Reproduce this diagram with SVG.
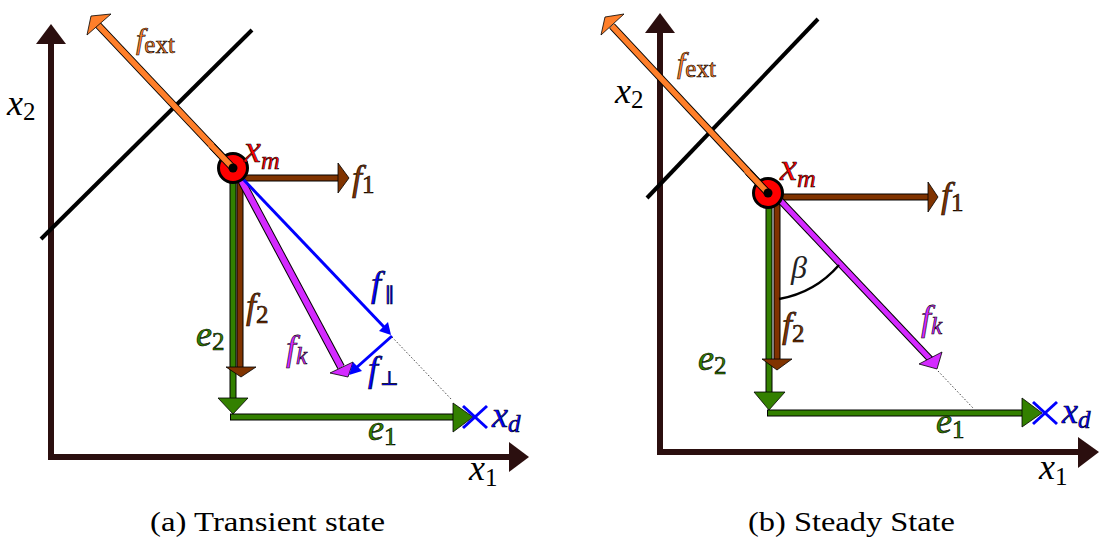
<svg xmlns="http://www.w3.org/2000/svg" width="1102" height="541" viewBox="0 0 1102 541">
<defs>
  <polygon id="hd-r" points="0,-15 0,15 11,0"/>
</defs>
<rect width="1102" height="541" fill="#fff"/>

<!-- Panel (a) -->
<g id="panel-a">
  <g id="a-axes" fill="#2b0f0f" stroke="#2b0f0f">
    <line stroke-width="6" x1="51" y1="460" x2="51" y2="42"/>
    <polygon stroke="none" points="51,24 36,44 66,44"/>
    <line stroke-width="6" x1="48" y1="457" x2="510" y2="457"/>
    <polygon stroke="none" points="529,457 509,442 509,472"/>
  </g>
  <g id="a-constraint">
    <line stroke="#000" stroke-width="4" x1="41" y1="239" x2="252" y2="30"/>
  </g>
  <g id="a-connectors" fill="none">
    <g id="a-e2">
      <line stroke="#000" stroke-width="7" x1="233" y1="172" x2="233" y2="399"/>
      <line stroke="#338000" stroke-width="5" x1="233" y1="172" x2="233" y2="399"/>
      <polygon fill="#338000" stroke="#000" stroke-width="0.8" points="218,398 248,398 233,414"/>
    </g>
    <g id="a-e1">
      <line stroke="#000" stroke-width="7" x1="230" y1="417" x2="454" y2="417"/>
      <line stroke="#338000" stroke-width="5" x1="231" y1="417" x2="454" y2="417"/>
      <polygon fill="#338000" stroke="#000" stroke-width="0.8" points="453,403 453,432 473,417"/>
    </g>
    <g id="a-f2">
      <line stroke="#000" stroke-width="7" x1="240" y1="175" x2="240" y2="368"/>
      <line stroke="#803300" stroke-width="5" x1="240" y1="175" x2="240" y2="368"/>
      <polygon fill="#803300" stroke="#000" stroke-width="0.8" points="226,367 256,367 241,377"/>
    </g>
    <g id="a-f1">
      <line stroke="#000" stroke-width="7" x1="237" y1="178" x2="339" y2="178"/>
      <line stroke="#803300" stroke-width="5" x1="238" y1="178" x2="339" y2="178"/>
      <polygon fill="#803300" stroke="#000" stroke-width="0.8" points="338,163 338,193 349,178"/>
    </g>
    <g id="a-fk">
      <line stroke="#000" stroke-width="8" x1="240" y1="178" x2="341" y2="367"/>
      <line stroke="#d42aff" stroke-width="6" x1="240" y1="178" x2="341" y2="367"/>
      <polygon fill="#d42aff" stroke="#000" stroke-width="0.8" points="330,373 353,362 348,377"/>
    </g>
    <g id="a-fpar">
      <line stroke="#0000ff" stroke-width="3" x1="242" y1="178" x2="385" y2="328"/>
      <polygon fill="#0000ff" points="391,335 388,322 379,331"/>
    </g>
    <g id="a-fperp">
      <line stroke="#0000ff" stroke-width="3" x1="392" y1="336" x2="356" y2="368"/>
      <polygon fill="#0000ff" points="349,375 353,362 362,371"/>
    </g>
    <line stroke="#444" stroke-width="1" stroke-dasharray="1.5 2" x1="392" y1="337" x2="452" y2="400"/>
    <g id="a-fext">
      <line stroke="#000" stroke-width="7.5" x1="232" y1="167" x2="98" y2="25"/>
      <line stroke="#ff7f2a" stroke-width="5.5" x1="232" y1="167" x2="98" y2="25"/>
      <polygon fill="#ff7f2a" stroke="#000" stroke-width="0.8" points="87,35 91,16 111,14"/>
    </g>
  </g>
  <g id="a-xm">
    <circle fill="#ff0000" stroke="#000" stroke-width="3" cx="233" cy="168" r="14.5"/>
    <line stroke="#000" stroke-width="7.5" x1="233" y1="168" x2="212" y2="146"/>
    <line stroke="#ff7f2a" stroke-width="5.5" x1="233" y1="168" x2="210" y2="144"/>
    <circle cx="233" cy="168" r="4.5" fill="#000"/>
  </g>
  <g id="a-xd" stroke="#0000ff" stroke-width="3">
    <line x1="463" y1="406" x2="487" y2="428"/>
    <line x1="463" y1="428" x2="487" y2="406"/>
  </g>
  <g id="a-labels">
    <text font-family="Liberation Serif" font-style="italic" font-size="36" x="7" y="115" fill="#000">x<tspan font-style="normal" font-size="25" dy="5">2</tspan></text>
    <text font-family="Liberation Serif" font-style="italic" font-size="36" x="469" y="480" fill="#000">x<tspan font-style="normal" font-size="25" dy="6">1</tspan></text>
    <text stroke="#000" stroke-width="0.6" font-family="Liberation Serif" font-style="italic" font-size="30" x="136" y="49" fill="#ff7f2a">f<tspan font-style="normal" font-size="25" dy="4">ext</tspan></text>
    <text stroke="#000" stroke-width="0.6" font-family="Liberation Serif" font-style="italic" font-size="38" x="244" y="162" fill="#ff0000">x<tspan font-size="26" dy="7">m</tspan></text>
    <text stroke="#000" stroke-width="0.6" font-family="Liberation Serif" font-style="italic" font-size="36" x="352" y="190" fill="#803300">f<tspan font-style="normal" font-size="25" dy="3">1</tspan></text>
    <text stroke="#000" stroke-width="0.6" font-family="Liberation Serif" font-style="italic" font-size="36" x="246" y="318" fill="#803300">f<tspan font-style="normal" font-size="25" dy="5">2</tspan></text>
    <text stroke="#000" stroke-width="0.6" font-family="Liberation Serif" font-style="italic" font-size="36" x="196" y="346" fill="#338000">e<tspan font-style="normal" font-size="25" dy="4">2</tspan></text>
    <text stroke="#000" stroke-width="0.6" font-family="Liberation Serif" font-style="italic" font-size="36" x="368" y="440" fill="#338000">e<tspan font-style="normal" font-size="25" dy="5">1</tspan></text>
    <text stroke="#000" stroke-width="0.6" font-family="Liberation Serif" font-style="italic" font-size="36" x="492" y="427" fill="#0000ff">x<tspan font-size="25" dy="5">d</tspan></text>
    <text stroke="#000" stroke-width="0.6" font-family="Liberation Serif" font-style="italic" font-size="36" x="286" y="360" fill="#d42aff">f<tspan font-size="25" dy="4">k</tspan></text>
    <text stroke="#000" stroke-width="0.6" font-family="Liberation Serif" font-style="italic" font-size="36" x="371" y="296" fill="#0000ff">f</text>
    <text stroke="#000" stroke-width="0.6" font-family="DejaVu Serif" font-size="20" x="385" y="302" fill="#0000ff">∥</text>
    <text stroke="#000" stroke-width="0.6" font-family="Liberation Serif" font-style="italic" font-size="36" x="368" y="381" fill="#0000ff">f</text>
    <text stroke="#000" stroke-width="0.6" font-family="DejaVu Serif" font-size="20" x="380" y="385" fill="#0000ff">⊥</text>
    <text font-family="Liberation Serif" font-size="28" fill="#000" x="150" y="531" textLength="235" lengthAdjust="spacingAndGlyphs">(a) Transient state</text>
  </g>
</g>

<!-- Panel (b) -->
<g id="panel-b">
  <g id="b-axes" fill="#2b0f0f" stroke="#2b0f0f">
    <line stroke-width="6" x1="660" y1="455" x2="660" y2="31"/>
    <polygon stroke="none" points="660,13 645,33 675,33"/>
    <line stroke-width="6" x1="657" y1="452" x2="1080" y2="452"/>
    <polygon stroke="none" points="1099,452 1078,437 1078,468"/>
  </g>
  <g id="b-constraint">
    <line stroke="#000" stroke-width="4" x1="647" y1="198" x2="818" y2="19"/>
  </g>
  <g id="b-connectors" fill="none">
    <g id="b-e2">
      <line stroke="#000" stroke-width="7" x1="769" y1="196" x2="769" y2="393"/>
      <line stroke="#338000" stroke-width="5" x1="769" y1="196" x2="769" y2="393"/>
      <polygon fill="#338000" stroke="#000" stroke-width="0.8" points="754,392 785,392 769,410"/>
    </g>
    <g id="b-e1">
      <line stroke="#000" stroke-width="7" x1="767" y1="413" x2="1023" y2="413"/>
      <line stroke="#338000" stroke-width="5" x1="768" y1="413" x2="1023" y2="413"/>
      <polygon fill="#338000" stroke="#000" stroke-width="0.8" points="1022,398 1022,427 1042,413"/>
    </g>
    <g id="b-f2">
      <line stroke="#000" stroke-width="7" x1="777" y1="194" x2="777" y2="360"/>
      <line stroke="#803300" stroke-width="5" x1="777" y1="194" x2="777" y2="360"/>
      <polygon fill="#803300" stroke="#000" stroke-width="0.8" points="762,359 792,359 777,370"/>
    </g>
    <g id="b-f1">
      <line stroke="#000" stroke-width="7" x1="774" y1="197" x2="929" y2="197"/>
      <line stroke="#803300" stroke-width="5" x1="775" y1="197" x2="929" y2="197"/>
      <polygon fill="#803300" stroke="#000" stroke-width="0.8" points="928,182 928,212 938,197"/>
    </g>
    <g id="b-fk">
      <line stroke="#000" stroke-width="7" x1="777" y1="197" x2="931" y2="360"/>
      <line stroke="#d42aff" stroke-width="5" x1="777" y1="197" x2="931" y2="360"/>
      <polygon fill="#d42aff" stroke="#000" stroke-width="0.8" points="919,364 942,352 937,369"/>
    </g>
    <line stroke="#444" stroke-width="1" stroke-dasharray="1.5 2" x1="938" y1="371" x2="973" y2="408"/>
    <path d="M779,299 A103,103 0 0 0 839,265" stroke="#000" stroke-width="2.5"/>
    <g id="b-fext">
      <line stroke="#000" stroke-width="7.5" x1="768" y1="193" x2="612" y2="26"/>
      <line stroke="#ff7f2a" stroke-width="5.5" x1="768" y1="193" x2="612" y2="26"/>
      <polygon fill="#ff7f2a" stroke="#000" stroke-width="0.8" points="601,35 605,17 624,14"/>
    </g>
  </g>
  <g id="b-xm">
    <circle fill="#ff0000" stroke="#000" stroke-width="3" cx="768" cy="193" r="14.5"/>
    <line stroke="#000" stroke-width="7.5" x1="768" y1="193" x2="748" y2="172"/>
    <line stroke="#ff7f2a" stroke-width="5.5" x1="768" y1="193" x2="746" y2="170"/>
    <circle cx="768" cy="193" r="4.5" fill="#000"/>
  </g>
  <g id="b-xd" stroke="#0000ff" stroke-width="3">
    <line x1="1033" y1="402" x2="1057" y2="424"/>
    <line x1="1033" y1="424" x2="1057" y2="402"/>
  </g>
  <g id="b-labels">
    <text font-family="Liberation Serif" font-style="italic" font-size="36" x="615" y="103" fill="#000">x<tspan font-style="normal" font-size="25" dy="5">2</tspan></text>
    <text font-family="Liberation Serif" font-style="italic" font-size="36" x="1039" y="479" fill="#000">x<tspan font-style="normal" font-size="25" dy="6">1</tspan></text>
    <text stroke="#000" stroke-width="0.6" font-family="Liberation Serif" font-style="italic" font-size="30" x="677" y="73" fill="#ff7f2a">f<tspan font-style="normal" font-size="25" dy="4">ext</tspan></text>
    <text stroke="#000" stroke-width="0.6" font-family="Liberation Serif" font-style="italic" font-size="38" x="780" y="180" fill="#ff0000">x<tspan font-size="26" dy="7">m</tspan></text>
    <text stroke="#000" stroke-width="0.6" font-family="Liberation Serif" font-style="italic" font-size="36" x="941" y="207" fill="#803300">f<tspan font-style="normal" font-size="25" dy="4">1</tspan></text>
    <text stroke="#000" stroke-width="0.6" font-family="Liberation Serif" font-style="italic" font-size="36" x="782" y="337" fill="#803300">f<tspan font-style="normal" font-size="25" dy="5">2</tspan></text>
    <text stroke="#000" stroke-width="0.6" font-family="Liberation Serif" font-style="italic" font-size="36" x="698" y="370" fill="#338000">e<tspan font-style="normal" font-size="25" dy="4">2</tspan></text>
    <text stroke="#000" stroke-width="0.6" font-family="Liberation Serif" font-style="italic" font-size="36" x="936" y="433" fill="#338000">e<tspan font-style="normal" font-size="25" dy="5">1</tspan></text>
    <text stroke="#000" stroke-width="0.6" font-family="Liberation Serif" font-style="italic" font-size="36" x="1062" y="423" fill="#0000ff">x<tspan font-size="25" dy="5">d</tspan></text>
    <text stroke="#000" stroke-width="0.6" font-family="Liberation Serif" font-style="italic" font-size="36" x="921" y="330" fill="#d42aff">f<tspan font-size="25" dy="4">k</tspan></text>
    <text font-family="Liberation Serif" font-style="italic" font-size="32" x="791" y="278" fill="#222">β</text>
    <text font-family="Liberation Serif" font-size="28" fill="#000" x="748" y="531" textLength="207" lengthAdjust="spacingAndGlyphs">(b) Steady State</text>
  </g>
</g>
</svg>
